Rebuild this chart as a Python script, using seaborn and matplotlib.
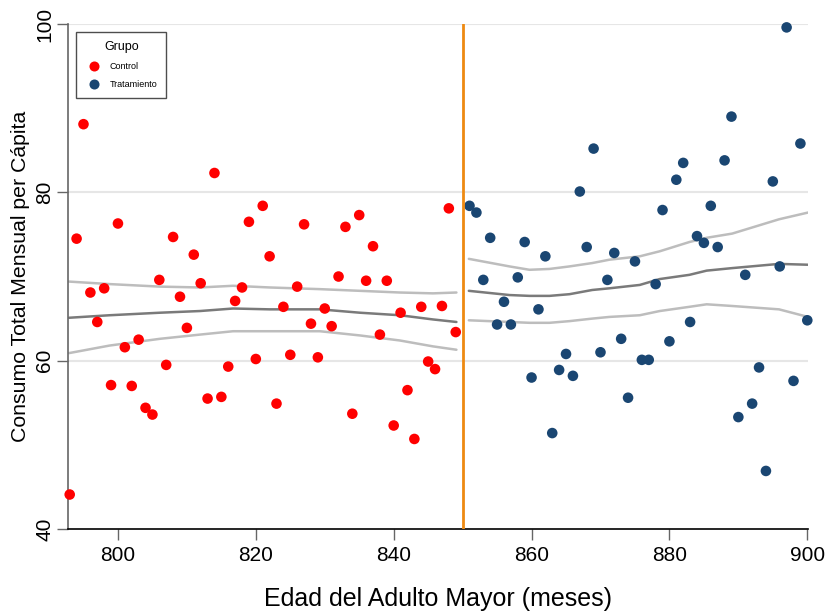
import numpy as np
import pandas as pd
import matplotlib
matplotlib.use("Agg")
import matplotlib.pyplot as plt
import seaborn as sns

# ---- data ----
control_edad = list(range(793, 850))
control_consumo = [44.1, 74.5, 88.1, 68.1, 64.6, 68.6, 57.1, 76.3, 61.6, 57.0,
                   62.5, 54.4, 53.6, 69.6, 59.5, 74.7, 67.6, 63.9, 72.6, 69.2,
                   55.5, 82.3, 55.7, 59.3, 67.1, 68.7, 76.5, 60.2, 78.4, 72.4,
                   54.9, 66.4, 60.7, 68.8, 76.2, 64.4, 60.4, 66.2, 64.1, 70.0,
                   75.9, 53.7, 77.3, 69.5, 73.6, 63.1, 69.5, 52.3, 65.7, 56.5,
                   50.7, 66.4, 59.9, 59.0, 66.5, 78.1, 63.4]

trat_edad = list(range(851, 901))
trat_consumo = [78.4, 77.6, 69.6, 74.6, 64.3, 67.0, 64.3, 69.9, 74.1, 58.0,
                66.1, 72.4, 51.4, 58.9, 60.8, 58.2, 80.1, 73.5, 85.2, 61.0,
                69.6, 72.8, 62.6, 55.6, 71.8, 60.1, 60.1, 69.1, 77.9, 62.3,
                81.5, 83.5, 64.6, 74.8, 74.0, 78.4, 73.5, 83.8, 89.0, 53.3,
                70.2, 54.9, 59.2, 46.9, 81.3, 71.2, 99.6, 57.6, 85.8, 64.8]

# smoothed fit and confidence band
ctrl_fit_x = [792.9, 798.8, 806.1, 811.9, 816.7, 822.0, 829.3, 835.1, 840.9, 845.7, 849.1]
ctrl_fit = [65.1, 65.4, 65.7, 65.9, 66.2, 66.1, 66.1, 65.7, 65.4, 64.9, 64.6]
ctrl_hi = [69.4, 69.1, 68.8, 68.7, 68.9, 68.7, 68.5, 68.3, 68.1, 68.0, 68.1]
ctrl_lo = [60.9, 61.8, 62.6, 63.1, 63.5, 63.5, 63.5, 63.0, 62.4, 61.7, 61.3]

trat_fit_x = [850.9, 856.8, 859.7, 862.6, 865.5, 868.8, 871.3, 875.7, 878.6, 882.9, 885.4, 889.1, 895.9, 900.1]
trat_fit = [68.3, 67.8, 67.7, 67.7, 67.9, 68.4, 68.6, 69.0, 69.7, 70.2, 70.7, 71.0, 71.5, 71.4]
trat_hi = [72.1, 71.2, 70.8, 70.9, 71.2, 71.6, 72.0, 72.4, 73.0, 74.1, 74.6, 75.1, 76.8, 77.6]
trat_lo = [64.8, 64.6, 64.5, 64.5, 64.7, 65.0, 65.2, 65.4, 65.9, 66.4, 66.7, 66.5, 66.1, 65.2]

corte = 850
grupos = ["Control", "Tratamiento"]
colores = ["#FF0000", "#1A4672"]

df = pd.DataFrame({
    "edad": control_edad + trat_edad,
    "consumo": control_consumo + trat_consumo,
    "Grupo": [grupos[0]] * len(control_edad) + [grupos[1]] * len(trat_edad),
})

sns.set_style("white")
plt.rcParams["font.family"] = ["Liberation Sans", "DejaVu Sans"]
plt.rcParams["text.color"] = "black"
plt.rcParams["axes.labelcolor"] = "black"
plt.rcParams["xtick.labelcolor"] = "black"
plt.rcParams["ytick.labelcolor"] = "black"

fig = plt.figure(figsize=(8.31, 6.16), dpi=100)
ax = fig.add_axes([0.0818, 0.1412, 0.8905, 0.8198])

for v in [60, 80, 100]:
    ax.axhline(v, color="#E6E6E6", lw=1.5, zorder=0)

for fx, lo, mid, hi in [(ctrl_fit_x, ctrl_lo, ctrl_fit, ctrl_hi),
                        (trat_fit_x, trat_lo, trat_fit, trat_hi)]:
    sns.lineplot(x=fx, y=hi, ax=ax, color="#BDBDBD", lw=1.8, zorder=2)
    sns.lineplot(x=fx, y=lo, ax=ax, color="#BDBDBD", lw=1.8, zorder=2)
    sns.lineplot(x=fx, y=mid, ax=ax, color="#7A7A7A", lw=1.8, zorder=2)

sns.scatterplot(data=df, x="edad", y="consumo", hue="Grupo", hue_order=grupos,
                palette=colores, s=58, edgecolor="none", ax=ax, zorder=3,
                clip_on=False)

ax.axvline(corte, color="#EE8A12", lw=2, zorder=4)

ax.set_xlim(792.75, 900.1)
ax.set_ylim(40, 100)
ax.set_xticks([800, 820, 840, 860, 880, 900])
ax.set_yticks([40, 60, 80, 100])
ax.tick_params(axis="x", labelsize=15, length=8, width=1, color="#666666",
               direction="out", bottom=True, pad=4, labelcolor="black")
ax.tick_params(axis="y", labelsize=15, length=8, width=1, color="#666666",
               direction="out", left=True, pad=2, labelcolor="black")
for lab in ax.get_yticklabels():
    lab.set_rotation(90)
    lab.set_va("center")

for s in ["top", "right"]:
    ax.spines[s].set_visible(False)
ax.spines["left"].set_color("#666666")
ax.spines["left"].set_linewidth(1.2)
ax.spines["bottom"].set_color("#000000")
ax.spines["bottom"].set_linewidth(1.2)

ax.set_xlabel("Edad del Adulto Mayor (meses)", fontsize=18, labelpad=16,
              color="black")
ax.set_ylabel("Consumo Total Mensual per Cápita", fontsize=15.3, labelpad=4,
              color="black")

leg = ax.legend(title="Grupo", loc="upper left", bbox_to_anchor=(0.011, 0.984),
                borderaxespad=0, fontsize=6.5, title_fontsize=9,
                frameon=True, fancybox=False, markerscale=0.95,
                handletextpad=0.7, borderpad=1.0, labelspacing=1.0)
leg.get_frame().set_edgecolor("#222222")
leg.get_frame().set_linewidth(1.0)

fig.savefig("out.png", dpi=100, facecolor="white")
